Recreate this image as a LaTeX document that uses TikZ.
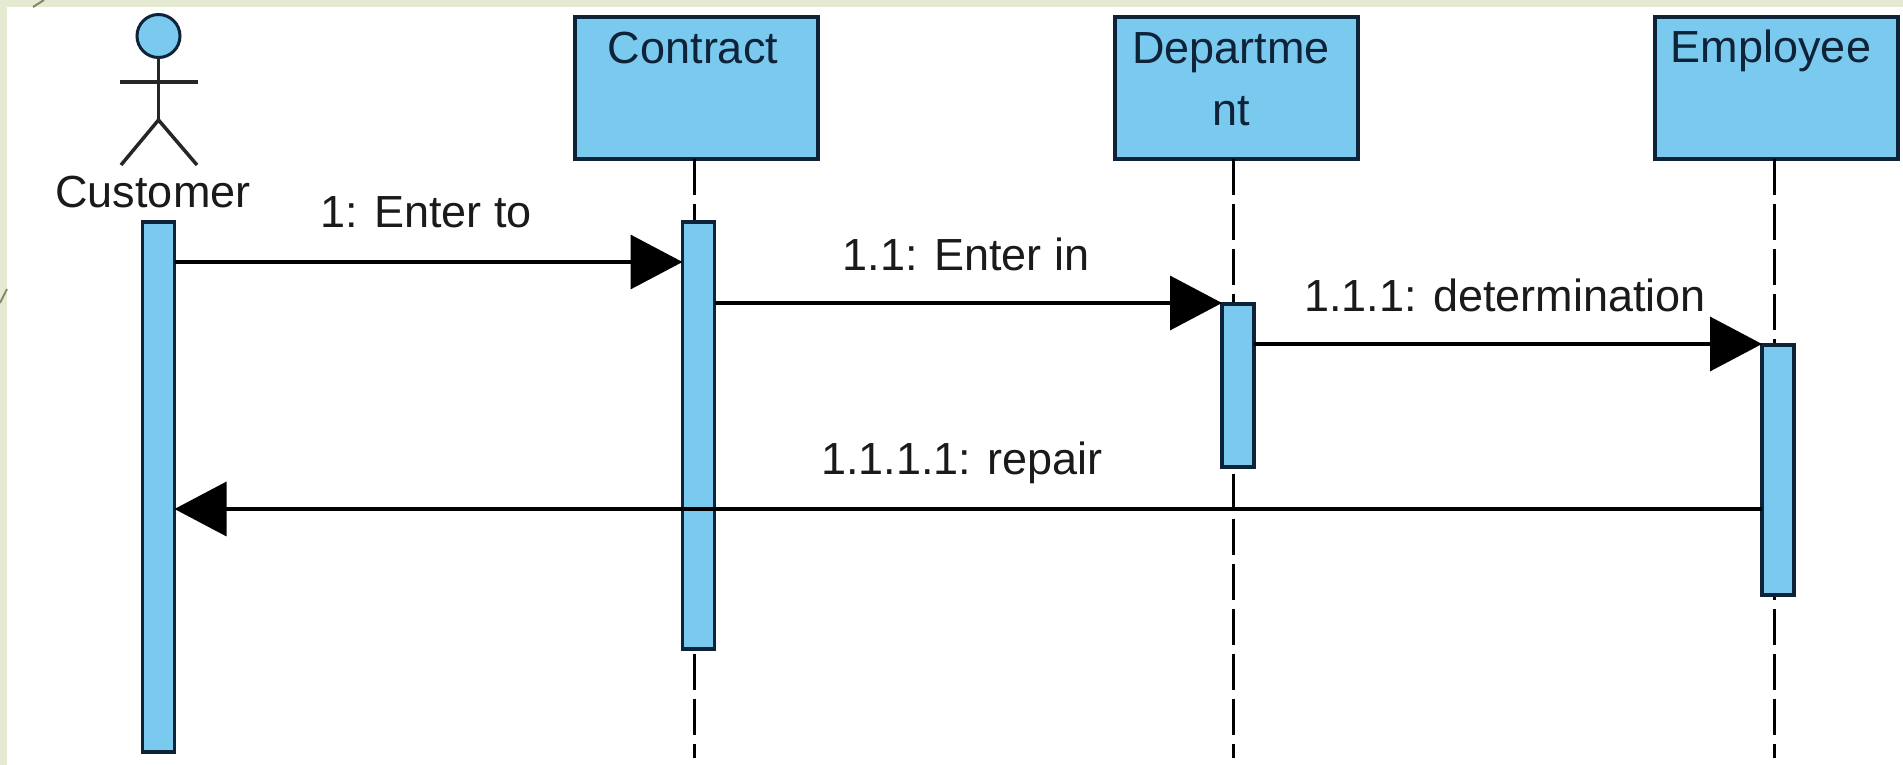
\documentclass[tikz,border=0pt]{standalone}
\usepackage{fontspec}
\setmainfont{Liberation Sans}
\usetikzlibrary{arrows.meta}
\definecolor{bgstrip}{HTML}{E5EBD2}
\definecolor{fillblue}{HTML}{7AC9EF}
\definecolor{edgedark}{HTML}{0E2238}
\definecolor{decor}{HTML}{8C8468}
\definecolor{ink}{HTML}{1A1A1A}
\tikzset{
  objbox/.style={draw=edgedark,fill=fillblue,line width=4pt,rectangle,inner sep=0pt,outer sep=0pt,minimum width=243pt,minimum height=141pt},
  actbar/.style={draw=edgedark,fill=fillblue,line width=3.5pt,rectangle,inner sep=0pt,outer sep=0pt,minimum width=32pt},
  lifeline/.style={draw=black,line width=3pt,dash pattern=on 36pt off 9pt},
  msg/.style={draw=black,line width=3.5pt,-{Triangle[length=52pt,width=54pt,fill=black]},shorten >=0pt},
  stick/.style={draw=black!85,line width=3.5pt},
  boxtext/.style={inner sep=0pt,anchor=base,text=edgedark,font=\fontsize{45}{62}\selectfont,align=center},
  msgtext/.style={inner sep=0pt,anchor=base,text=ink,font=\fontsize{45}{54}\selectfont}
}
\begin{document}
\begin{tikzpicture}[x=1pt,y=-1pt]
\useasboundingbox (0,0) rectangle (1903,765);
\fill[bgstrip] (0,0) rectangle (1903,765);
\fill[white] (7,7) rectangle (1903,765);
\draw[decor,line width=2pt] (44,0) -- (33,7);
\draw[decor,line width=2pt] (7,289) -- (0,303);
% objects
\node[objbox] (contract) at (696,88) {};
\node[objbox] (department) at (1236,88) {};
\node[objbox] (employee) at (1776.5,88) {};
% lifeline ends
\coordinate (endC) at (694,758);
\coordinate (endD) at (1233,758);
\coordinate (endE) at (1774,758);
\draw[lifeline] (contract.south -| endC) -- (endC);
\draw[lifeline] (department.south -| endD) -- (endD);
\draw[lifeline] (employee.south -| endE) -- (endE);
% activation bars
\node[actbar,minimum height=530pt] (barcust) at (158.5,487) {};
\node[actbar,minimum height=427pt] (barcontract) at (698.5,435.5) {};
\node[actbar,minimum height=163pt] (bardept) at (1238,385.5) {};
\node[actbar,minimum height=250pt] (baremp) at (1778,470) {};
% actor
\node[draw=edgedark,fill=fillblue,line width=3pt,circle,minimum size=43pt,inner sep=0pt,outer sep=0pt] (head) at (158.5,36) {};
\coordinate (hip) at (158.5,120);
\coordinate (armL) at (120,82);
\coordinate (armR) at (198,82);
\coordinate (footL) at (121,165);
\coordinate (footR) at (197,165);
\draw[stick] (head.south) -- (hip);
\draw[stick] (armL) -- (armR);
\draw[stick] (footL) -- (hip) -- (footR);
\node[msgtext] (custlabel) at (153,207) {Customer};
% box labels
\node[boxtext] (contractlabel) at (693,64) {Contract};
\node[boxtext] (deptlabel) at (1231,125) {Departme\\nt};
\node[boxtext] (emplabel) at (1771,63) {Employee};
% messages
\coordinate (m1) at (0,262);
\coordinate (m2) at (0,303);
\coordinate (m3) at (0,344);
\coordinate (m4) at (0,509);
\draw[msg] (barcust.east |- m1) -- (barcontract.west |- m1);
\draw[msg] (barcontract.east |- m2) -- (bardept.west |- m2);
\draw[msg] (bardept.east |- m3) -- (baremp.west |- m3);
\draw[msg] (baremp.west |- m4) -- (barcust.east |- m4);
\node[msgtext] (l1) at (426,227) {1: Enter to};
\node[msgtext] (l2) at (966,270) {1.1: Enter in};
\node[msgtext] (l3) at (1505,311) {1.1.1: determination};
\node[msgtext] (l4) at (962,474) {1.1.1.1: repair};
\end{tikzpicture}
\end{document}
